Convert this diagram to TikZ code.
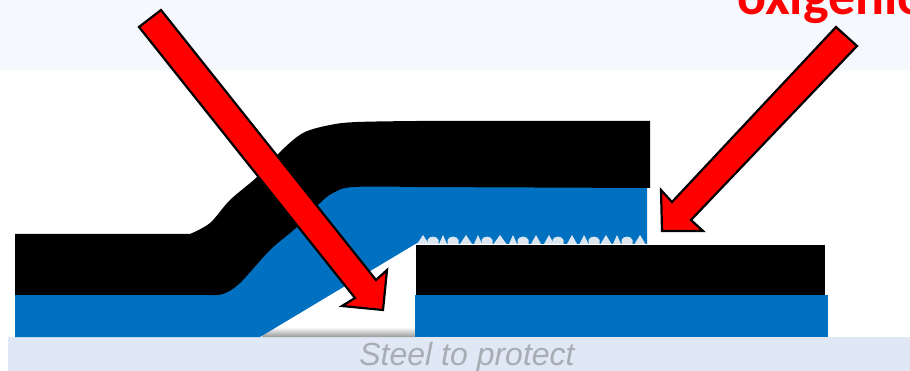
\documentclass[tikz,border=0pt]{standalone}
\usepackage{fontspec}
\setmainfont{Liberation Sans}
\newfontfamily\callout{Carlito}
\definecolor{bandtop}{HTML}{F5F8FC}
\definecolor{steel}{HTML}{DFE8F4}
\definecolor{coat}{HTML}{0070C0}
\definecolor{tooth}{HTML}{DDE6EE}
\definecolor{steeltext}{HTML}{A8ADB5}
\tikzset{
  bigarrow/.style={draw=black,line width=2.2pt,fill=red,line join=miter,miter limit=6},
  blacklayer/.style={fill=black},
  bluelayer/.style={fill=coat}
}
\begin{document}
\begin{tikzpicture}[x=1pt,y=-1pt]
\useasboundingbox (0,0) rectangle (910,371);
\begin{scope}
\clip (0,0) rectangle (910,371);
\fill[bandtop] (0,0) rectangle (910,70);
\fill[steel] (8,337) rectangle (910,371);
% shadow in the gap
\shade[top color=white,bottom color=black!50,opacity=.8] (268,327) -- (415,327) -- (415,337) -- (262,337) -- cycle;
% blue layers
\fill[bluelayer] (15,290) -- (223,285) -- (300,200) -- (353,180) -- (647,180) -- (647,244) -- (425,244) -- (417,243) -- (260,337) -- (15,337) -- cycle;
\fill[bluelayer] (415,295) rectangle (828,337);
% teeth
\foreach \tx/\hw in {423/6,443/4,466/6,478/4,500/6.5,513/4,536/5,549/5,572/5,584/4.5,606/5.5,617/4,640/5.5}{
  \fill[tooth] (\tx-\hw,244) -- (\tx,235) -- (\tx+\hw,244) -- cycle;
}
\foreach \tx in {433,453,487,523,558,594,627}{
  \fill[tooth] (\tx-5.5,244) -- (\tx-5.5,240) .. controls (\tx-4,235.5) and (\tx+4,235.5) .. (\tx+5.5,240) -- (\tx+5.5,244) -- cycle;
}
% black layers
\fill[blacklayer] (15,234) -- (190,234)
  -- plot[smooth,tension=.55] coordinates {(190,234) (210,223) (230,200) (257,177) (280,152) (303,133) (330,125) (357,122) (417,121)}
  -- (650,121) -- (650,188) -- (417,187)
  -- plot[smooth,tension=.55] coordinates {(417,187) (353,187) (333,193) (320,203) (297,227) (270,250) (240,283) (223,294) (208,295)}
  -- (15,295) -- cycle;
\fill[blacklayer] (416,245) rectangle (825,295);
% arrows
\draw[bigarrow] (161,10) -- (139,27) -- (355,298) -- (342,306) -- (383,310) -- (387,270) -- (376,280) -- cycle;
\draw[bigarrow] (836,27) -- (857,46) -- (691,220) -- (703,231) -- (662,231) -- (661,190) -- (672,202) -- cycle;
% texts
\node[anchor=base west,inner sep=0pt,text=red,font=\callout\bfseries\fontsize{54}{54}\selectfont] (oxtext) at (737,15) {oxigenio};
\end{scope}
\node[anchor=base,inner sep=0pt,text=steeltext,font=\itshape\fontsize{32}{32}\selectfont] (steellabel) at (467,365) {Steel to protect};
\end{tikzpicture}
\end{document}
